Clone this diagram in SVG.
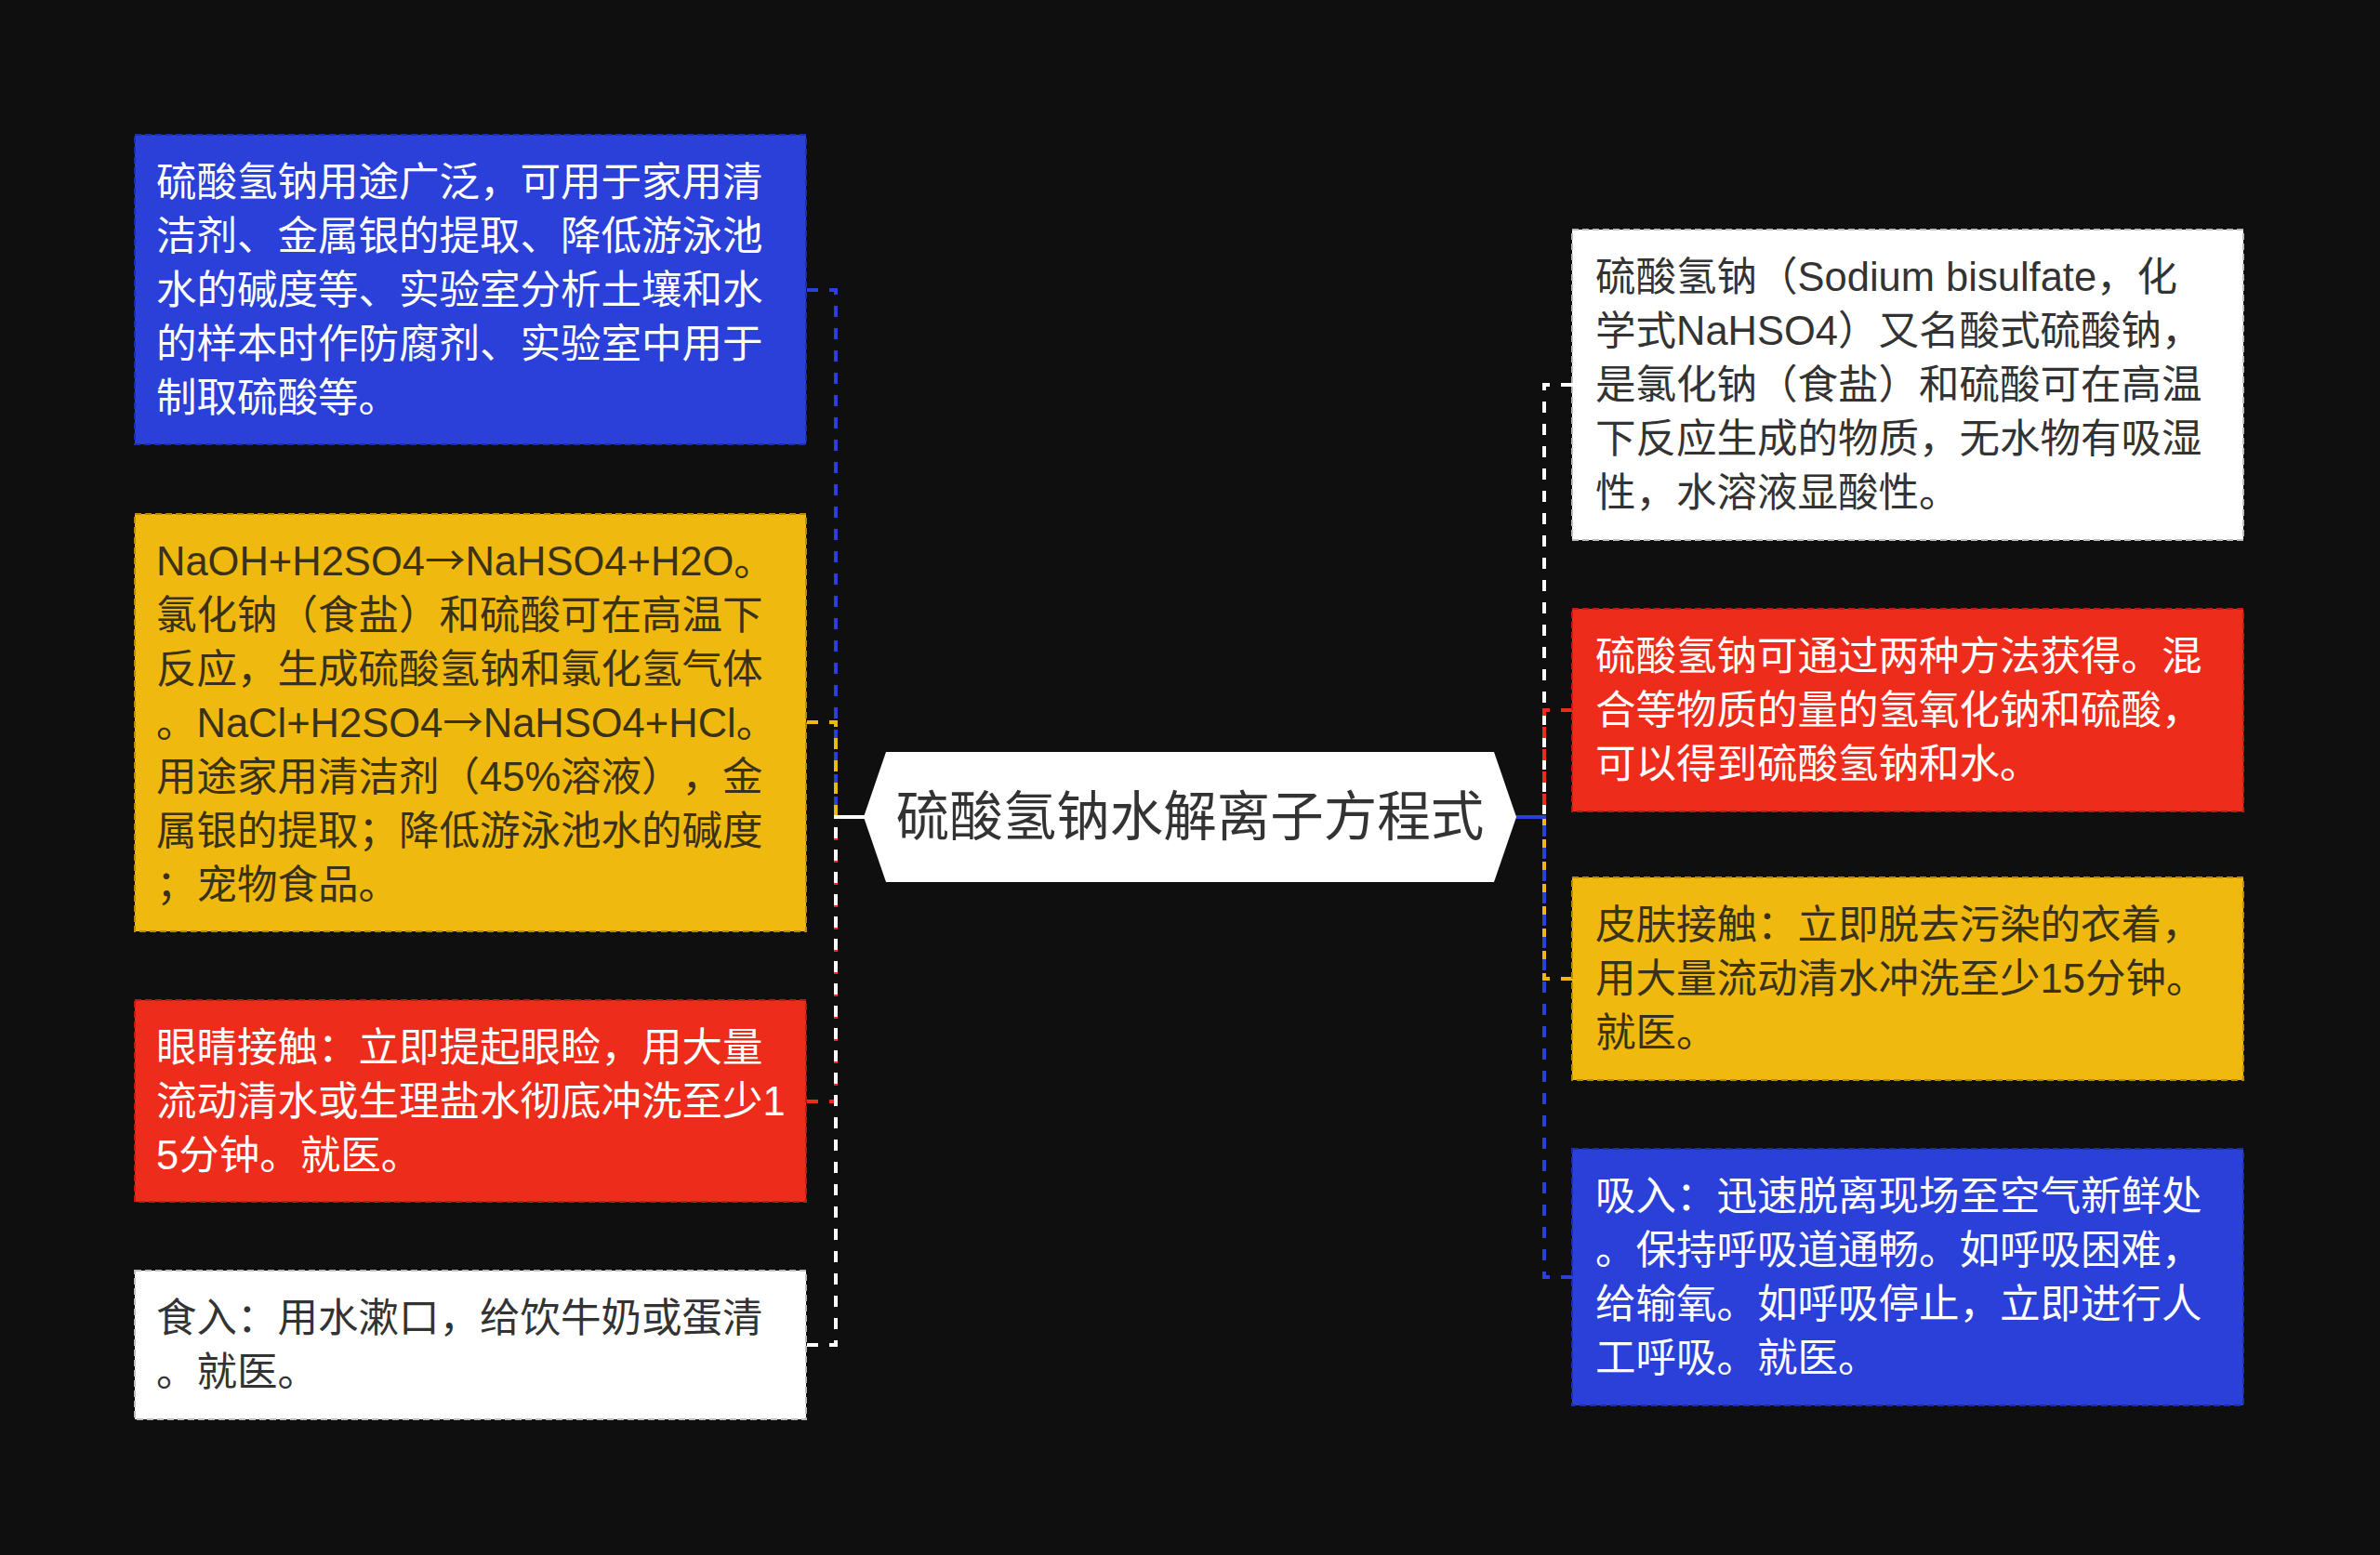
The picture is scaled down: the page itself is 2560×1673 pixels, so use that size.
<svg xmlns="http://www.w3.org/2000/svg" width="2560" height="1673" viewBox="0 0 2560 1673">
<style>
.bg{fill:#0f0f0f}
.box{stroke-width:2;stroke-dasharray:7 4}
.blue{fill:#2a40d8;stroke:#1d2fa8}
.yellow{fill:#f0b90f;stroke:#b88c06}
.red{fill:#ee2c1b;stroke:#b81d10}
.white{fill:#ffffff;stroke:#bdbdbd}
text{font-family:"Liberation Sans","Noto Sans CJK SC",sans-serif;font-size:43.5px;text-spacing-trim:space-all}
.ar{font-family:"Noto Sans CJK SC",sans-serif}
.tw{fill:#ffffff}
.td{fill:#333333}
.ty{fill:#3a3218}
.c{fill:none;stroke-width:4;stroke-dasharray:12 12}
.cb{stroke:#2a40d8}.cy{stroke:#f0b90f}.cr{stroke:#ee2c1b}.cw{stroke:#ffffff}
</style>
<rect class="bg" x="0" y="0" width="2560" height="1673"/>
<g id="connectors">
<path class="c cb" d="M868 312 H899 V879"/>
<path class="c cy" d="M868 777 H899 V879"/>
<path class="c cr" d="M868 1185 H899 V879"/>
<path class="c cw" d="M868 1447 H899 V879"/>
<line x1="897" y1="879" x2="930" y2="879" stroke="#ffffff" stroke-width="4"/>
<path class="c cw" d="M1691 414 H1661 V879"/>
<path class="c cr" d="M1691 764 H1661 V879"/>
<path class="c cy" d="M1691 1053 H1661 V879"/>
<path class="c cb" d="M1691 1374 H1661 V879"/>
<line x1="1630" y1="879" x2="1663" y2="879" stroke="#2a40d8" stroke-width="4"/>
</g>
<g id="center">
<polygon points="929,879 953,809 1607,809 1631,879 1607,949 953,949" fill="#ffffff"/>
<text x="1280" y="899" text-anchor="middle" style="font-size:57.5px;font-family:'Noto Sans CJK SC',sans-serif" fill="#333333">硫酸氢钠水解离子方程式</text>
</g>
<g id="left-1">
<rect class="box blue" x="145" y="145" width="722" height="333"/>
<text class="tw" x="168"><tspan x="168" y="211">硫酸氢钠用途广泛，可用于家用清</tspan><tspan x="168" y="269">洁剂、金属银的提取、降低游泳池</tspan><tspan x="168" y="327">水的碱度等、实验室分析土壤和水</tspan><tspan x="168" y="385">的样本时作防腐剂、实验室中用于</tspan><tspan x="168" y="443">制取硫酸等。</tspan></text>
</g>
<g id="left-2">
<rect class="box yellow" x="145" y="553" width="722" height="449"/>
<text class="ty" x="168"><tspan x="168" y="619">NaOH+H2SO4<tspan class="ar">→</tspan>NaHSO4+H2O。</tspan><tspan x="168" y="677">氯化钠（食盐）和硫酸可在高温下</tspan><tspan x="168" y="735">反应，生成硫酸氢钠和氯化氢气体</tspan><tspan x="168" y="793">。NaCl+H2SO4<tspan class="ar">→</tspan>NaHSO4+HCl。</tspan><tspan x="168" y="851">用途家用清洁剂（45%溶液），金</tspan><tspan x="168" y="909">属银的提取；降低游泳池水的碱度</tspan><tspan x="168" y="967">；宠物食品。</tspan></text>
</g>
<g id="left-3">
<rect class="box red" x="145" y="1076" width="722" height="217"/>
<text class="tw" x="168"><tspan x="168" y="1142">眼睛接触：立即提起眼睑，用大量</tspan><tspan x="168" y="1200">流动清水或生理盐水彻底冲洗至少1</tspan><tspan x="168" y="1258">5分钟。就医。</tspan></text>
</g>
<g id="left-4">
<rect class="box white" x="145" y="1367" width="722" height="160"/>
<text class="td" x="168"><tspan x="168" y="1433">食入：用水漱口，给饮牛奶或蛋清</tspan><tspan x="168" y="1491">。就医。</tspan></text>
</g>
<g id="right-1">
<rect class="box white" x="1691" y="247" width="722" height="334"/>
<text class="td" x="1716"><tspan x="1716" y="313">硫酸氢钠（Sodium bisulfate，化</tspan><tspan x="1716" y="371">学式NaHSO4）又名酸式硫酸钠，</tspan><tspan x="1716" y="429">是氯化钠（食盐）和硫酸可在高温</tspan><tspan x="1716" y="487">下反应生成的物质，无水物有吸湿</tspan><tspan x="1716" y="545">性，水溶液显酸性。</tspan></text>
</g>
<g id="right-2">
<rect class="box red" x="1691" y="655" width="722" height="218"/>
<text class="tw" x="1716"><tspan x="1716" y="721">硫酸氢钠可通过两种方法获得。混</tspan><tspan x="1716" y="779">合等物质的量的氢氧化钠和硫酸，</tspan><tspan x="1716" y="837">可以得到硫酸氢钠和水。</tspan></text>
</g>
<g id="right-3">
<rect class="box yellow" x="1691" y="944" width="722" height="218"/>
<text class="ty" x="1716"><tspan x="1716" y="1010">皮肤接触：立即脱去污染的衣着，</tspan><tspan x="1716" y="1068">用大量流动清水冲洗至少15分钟。</tspan><tspan x="1716" y="1126">就医。</tspan></text>
</g>
<g id="right-4">
<rect class="box blue" x="1691" y="1236" width="722" height="276"/>
<text class="tw" x="1716"><tspan x="1716" y="1302">吸入：迅速脱离现场至空气新鲜处</tspan><tspan x="1716" y="1360">。保持呼吸道通畅。如呼吸困难，</tspan><tspan x="1716" y="1418">给输氧。如呼吸停止，立即进行人</tspan><tspan x="1716" y="1476">工呼吸。就医。</tspan></text>
</g>
</svg>
